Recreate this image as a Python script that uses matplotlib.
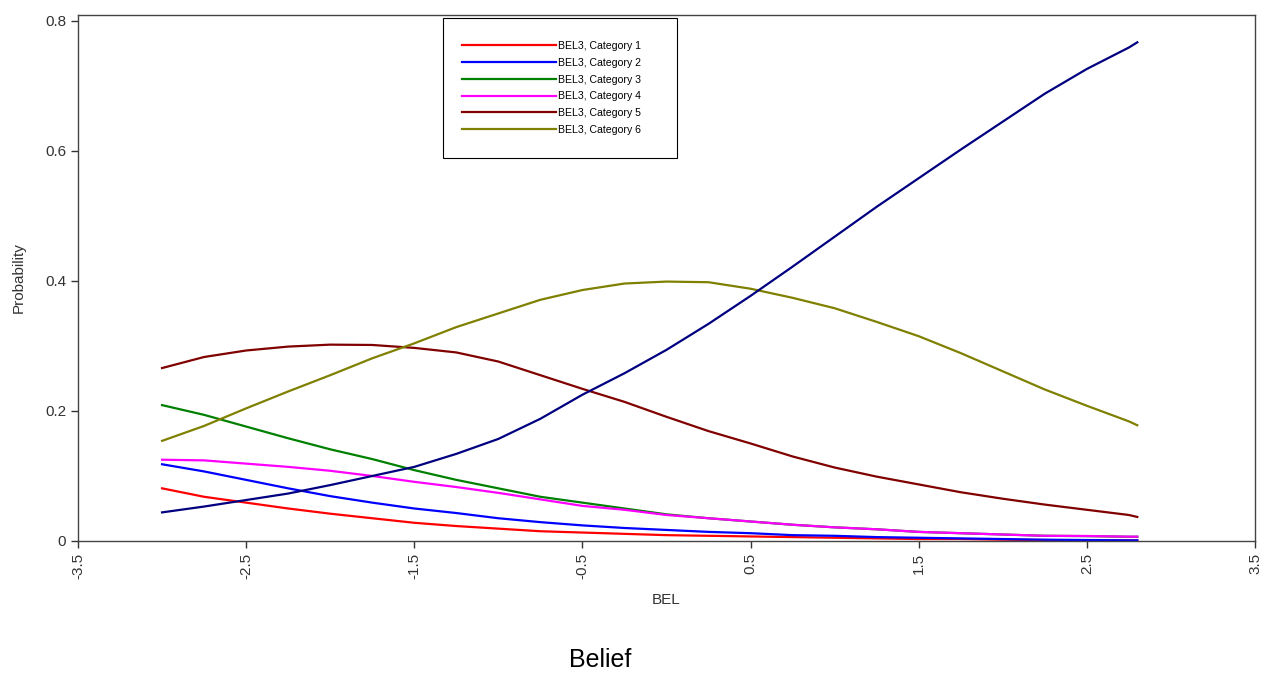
import numpy as np
import matplotlib
matplotlib.use("Agg")
import matplotlib.pyplot as plt
from matplotlib.patches import Rectangle

plt.rcParams['font.family'] = ['Liberation Sans', 'DejaVu Sans']

# values
bel = [-3.0, -2.75, -2.5, -2.25, -2.0, -1.75, -1.5, -1.25, -1.0, -0.75, -0.5, -0.25,
       0.0, 0.25, 0.5, 0.75, 1.0, 1.25, 1.5, 1.75, 2.0, 2.25, 2.5, 2.75, 2.8]

cat1 = [0.081, 0.068, 0.059, 0.050, 0.042, 0.035, 0.028, 0.023, 0.019, 0.015, 0.013, 0.011,
        0.009, 0.008, 0.007, 0.006, 0.005, 0.004, 0.003, 0.003, 0.002, 0.0015, 0.001, 0.001, 0.001]
cat2 = [0.118, 0.107, 0.094, 0.081, 0.069, 0.059, 0.050, 0.043, 0.035, 0.029, 0.024, 0.020,
        0.017, 0.014, 0.012, 0.009, 0.008, 0.006, 0.005, 0.004, 0.003, 0.002, 0.0015, 0.001, 0.001]
cat3 = [0.209, 0.194, 0.176, 0.158, 0.141, 0.126, 0.109, 0.094, 0.081, 0.068, 0.059, 0.050,
        0.041, 0.035, 0.030, 0.025, 0.021, 0.018, 0.014, 0.012, 0.010, 0.008, 0.0075, 0.0065, 0.0065]
cat4 = [0.125, 0.124, 0.119, 0.114, 0.108, 0.100, 0.091, 0.083, 0.074, 0.064, 0.054, 0.048,
        0.040, 0.035, 0.030, 0.025, 0.021, 0.018, 0.014, 0.012, 0.010, 0.008, 0.0077, 0.0067, 0.0067]
cat5 = [0.266, 0.283, 0.293, 0.299, 0.302, 0.3015, 0.297, 0.290, 0.276, 0.255, 0.234, 0.214,
        0.191, 0.169, 0.150, 0.130, 0.113, 0.099, 0.087, 0.075, 0.065, 0.056, 0.048, 0.040, 0.037]
cat6 = [0.154, 0.177, 0.204, 0.230, 0.255, 0.281, 0.304, 0.329, 0.350, 0.371, 0.386, 0.396,
        0.399, 0.398, 0.388, 0.374, 0.358, 0.337, 0.315, 0.289, 0.261, 0.233, 0.208, 0.184, 0.178]
cat7 = [0.044, 0.053, 0.063, 0.073, 0.086, 0.100, 0.114, 0.134, 0.157, 0.188, 0.225, 0.258,
        0.294, 0.334, 0.377, 0.422, 0.468, 0.514, 0.558, 0.602, 0.645, 0.688, 0.726, 0.759, 0.767]

series = [
    ("BEL3, Category 1", cat1, "#FF0000"),
    ("BEL3, Category 2", cat2, "#0000FF"),
    ("BEL3, Category 3", cat3, "#008000"),
    ("BEL3, Category 4", cat4, "#FF00FF"),
    ("BEL3, Category 5", cat5, "#800000"),
    ("BEL3, Category 6", cat6, "#808000"),
]

xticks = [-3.5, -2.5, -1.5, -0.5, 0.5, 1.5, 2.5, 3.5]
yticks = [0, 0.2, 0.4, 0.6, 0.8]

fig = plt.figure(figsize=(12.63, 6.77), dpi=100)
ax = fig.add_axes([78/1263, 1 - 541/677, (1255 - 78)/1263, (541 - 15)/677])

for label, vals, col in series:
    ax.plot(bel, vals, color=col, lw=1.6, label=label)
# last category is drawn but not listed in the legend
ax.plot(bel, cat7, color="#000080", lw=1.6)

ax.set_xlim(-3.5, 3.5)
ax.set_ylim(0, 0.809)
ax.set_xticks(xticks)
ax.set_xticklabels([f"{t:g}" for t in xticks], rotation=90)
ax.set_yticks(yticks)
ax.set_yticklabels([f"{t:g}" for t in yticks])
ax.tick_params(direction='out', length=5, width=1, colors='#333333', labelsize=11,
               labelcolor='#333333')
for s in ax.spines.values():
    s.set_color('#444444')
    s.set_linewidth(1)

ax.set_xlabel("BEL", fontsize=11, color='#333333', labelpad=10)
ax.set_ylabel("Probability", fontsize=11, color='#333333', labelpad=14)

# legend entries without frame, box drawn separately
leg = ax.legend(loc='upper left', bbox_to_anchor=(462/1263, 1 - 41/677),
                bbox_transform=fig.transFigure, fontsize=7.6, frameon=False,
                handlelength=8.9, handletextpad=0.2, labelspacing=0.64,
                borderpad=0, borderaxespad=0)
fig.add_artist(Rectangle((443/1263, 1 - 158/677), 234/1263, 140/677,
                         transform=fig.transFigure, fill=False,
                         edgecolor='black', lw=0.8))

fig.text(600/1263, 1 - 660/677, "Belief", ha='center', va='center', fontsize=18)

fig.savefig("out.png", dpi=100)
